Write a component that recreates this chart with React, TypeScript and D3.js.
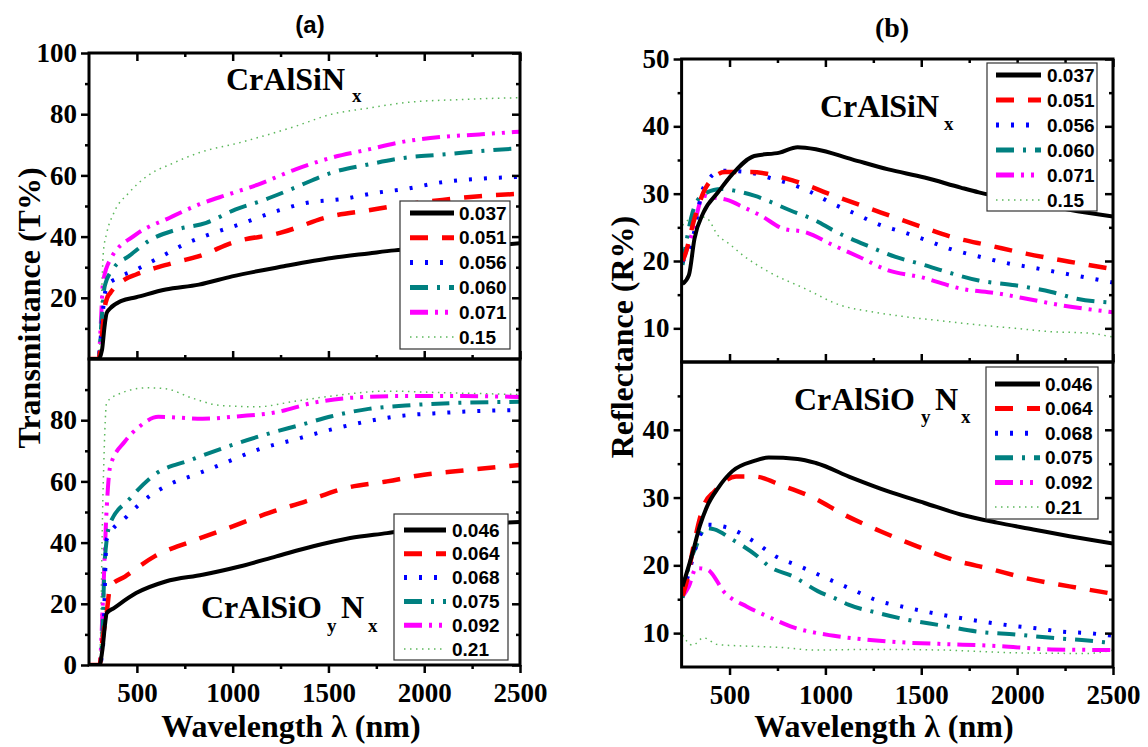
import React, { useRef, useEffect } from 'react';
import * as d3 from 'd3';

type Pt = [number, number];

// (a) transmittance, CrAlSiNx  [wavelength nm, T %]
const tN037: Pt[] = [[250, 0], [300, 0], [318, 3], [330, 10], [342, 15], [360, 16.5], [420, 19], [496, 20.2], [650, 22.7], [824, 24.3], [997, 27], [1267, 30.3], [1517, 33], [1710, 34.5], [1845, 35.5], [2000, 36], [2288, 36.9], [2500, 37.8]];
const tN051: Pt[] = [[250, 0], [300, 0], [318, 8], [330, 16], [345, 20], [361, 21.6], [438, 26], [496, 27.6], [689, 31.4], [843, 34], [997, 38], [1247, 41.2], [1517, 46.7], [1710, 48.6], [1845, 50], [2095, 52], [2288, 53.2], [2500, 54]];
const tN056: Pt[] = [[250, 0], [300, 0], [315, 10], [330, 20], [342, 23.8], [400, 26.5], [496, 29.2], [612, 33], [766, 38], [901, 41.2], [1036, 44], [1228, 48.3], [1382, 51], [1575, 52.3], [1749, 54.3], [1903, 55.6], [2095, 57.8], [2288, 58.9], [2500, 59.5]];
const tN060: Pt[] = [[250, 0], [300, 0], [315, 12], [332, 23.8], [380, 29.8], [458, 33.6], [573, 39], [708, 42.3], [862, 44.5], [1016, 48.9], [1170, 52.1], [1325, 56], [1517, 60.9], [1710, 63.6], [1903, 65.8], [2095, 66.8], [2288, 67.9], [2500, 68.9]];
const tN071: Pt[] = [[250, 0], [300, 0], [312, 12], [323, 24.9], [361, 32.5], [496, 40.7], [669, 46.1], [824, 50.5], [978, 53.8], [1132, 57], [1325, 61.9], [1517, 65.8], [1710, 68.5], [1864, 70.7], [2095, 72.6], [2288, 73.4], [2500, 74.3]];
const tN15: Pt[] = [[250, 0], [300, 0], [315, 20], [325, 35], [342, 41], [380, 47.8], [458, 54.3], [554, 59.8], [689, 64], [824, 67.4], [1036, 70.7], [1325, 76], [1517, 80], [1710, 82], [1903, 83.8], [2191, 84.8], [2500, 85.4]];

// (a) transmittance, CrAlSiOyNx
const tON046: Pt[] = [[250, 0], [305, 0], [320, 5], [335, 14], [342, 16.9], [380, 18.6], [496, 23.5], [650, 27.3], [843, 29.5], [1036, 32.2], [1228, 35.5], [1421, 38.8], [1614, 41.5], [1806, 43.1], [1999, 44.8], [2288, 46.1], [2500, 46.7]];
const tON064: Pt[] = [[250, 0], [305, 0], [320, 8], [342, 16.9], [361, 25.7], [438, 28.9], [592, 35.5], [785, 40.4], [978, 44.8], [1190, 49.7], [1382, 53.5], [1594, 57.9], [1806, 60], [1999, 62.2], [2191, 63.5], [2500, 65.4]];
const tON068: Pt[] = [[250, 0], [305, 0], [323, 6], [342, 41], [448, 48.6], [564, 55.1], [669, 59], [804, 62.2], [939, 65.5], [1132, 70.4], [1325, 73.7], [1517, 77], [1710, 79.7], [1864, 81.3], [2095, 82.4], [2288, 83], [2500, 83.3]];
const tON075: Pt[] = [[250, 0], [305, 0], [320, 10], [332, 34], [361, 46.4], [458, 54], [592, 62.2], [785, 67.1], [978, 71.5], [1170, 75.3], [1363, 78.6], [1517, 81.3], [1710, 83.7], [1903, 84.8], [2191, 85.7], [2500, 86]];
const tON092: Pt[] = [[250, 0], [305, 0], [323, 21.3], [342, 50.8], [361, 65], [438, 73.1], [515, 78], [612, 81.1], [843, 80.5], [1036, 81.3], [1228, 82.6], [1421, 85.7], [1614, 87.3], [1903, 87.9], [2191, 87.9], [2500, 87.6]];
const tON21: Pt[] = [[250, 0], [305, 0], [323, 56], [342, 85.7], [400, 88.4], [554, 90.6], [650, 90.3], [785, 87.3], [939, 84.8], [1132, 84.4], [1325, 86.2], [1517, 87.9], [1806, 89.5], [2095, 89], [2500, 88.4]];

// (b) reflectance, CrAlSiNx  [wavelength nm, R %]
const rN037: Pt[] = [[255, 16.6], [288, 17.9], [317, 23.3], [364, 27.2], [440, 30.2], [515, 32.9], [629, 35.6], [761, 36.1], [855, 36.9], [950, 36.6], [1139, 35.1], [1328, 33.6], [1517, 32.4], [1706, 30.9], [1800, 30.2], [2084, 28.7], [2273, 27.6], [2500, 26.6]];
const rN051: Pt[] = [[255, 20], [269, 21], [317, 26.3], [383, 31.2], [477, 33.2], [610, 33.2], [836, 31.9], [1044, 29.7], [1290, 27.2], [1479, 25.3], [1668, 23.5], [1857, 22.3], [2046, 21.1], [2273, 19.9], [2500, 18.8]];
const rN056: Pt[] = [[255, 19.9], [307, 23.3], [364, 30.9], [458, 33.4], [591, 33.2], [704, 32.4], [912, 30.4], [1025, 28.7], [1158, 27], [1271, 25.5], [1404, 24.3], [1536, 23], [1649, 21.8], [1782, 20.8], [1961, 19.6], [2084, 19], [2216, 18.3], [2349, 17.6], [2500, 16.8]];
const rN060: Pt[] = [[255, 19.4], [307, 27.2], [364, 29.9], [458, 30.7], [534, 30.4], [629, 29.7], [818, 27.5], [950, 26], [1044, 24.5], [1233, 22.1], [1366, 20.6], [1517, 19.4], [1630, 18.4], [1800, 17.1], [1990, 16.4], [2179, 15.4], [2311, 14.4], [2500, 13.8]];
const rN071: Pt[] = [[255, 19.9], [307, 24.3], [364, 29.7], [402, 29.5], [496, 29], [572, 28], [666, 26.7], [780, 24.8], [893, 24.3], [1044, 22.3], [1177, 20.6], [1328, 18.6], [1498, 17.6], [1706, 15.9], [1895, 15.2], [2084, 14.2], [2235, 13.4], [2500, 12.4]];
const rN15: Pt[] = [[255, 25.3], [326, 26.7], [383, 26.3], [440, 23.8], [496, 22.6], [572, 20.8], [704, 18.4], [893, 15.9], [1082, 13.4], [1233, 12.5], [1423, 11.7], [1611, 11.1], [1800, 10.5], [1990, 10], [2179, 9.5], [2368, 9.3], [2500, 8.7]];

// (b) reflectance, CrAlSiOyNx
const rON046: Pt[] = [[255, 16.9], [307, 21.8], [345, 25.8], [383, 28.7], [440, 31.4], [515, 33.9], [629, 35.4], [704, 35.9], [855, 35.7], [950, 35.1], [1139, 32.9], [1328, 30.9], [1517, 29.2], [1706, 27.5], [1895, 26.3], [2084, 25.3], [2273, 24.3], [2500, 23.2]];
const rON064: Pt[] = [[255, 15.5], [280, 18], [307, 22.1], [364, 28.7], [421, 30.9], [534, 33.1], [629, 33.1], [780, 31.7], [950, 29.8], [1082, 27.7], [1290, 25], [1479, 22.8], [1668, 20.8], [1857, 19.5], [2046, 18.1], [2273, 16.9], [2500, 15.8]];
const rON068: Pt[] = [[255, 15.9], [288, 18.9], [326, 22.8], [383, 26], [496, 25.5], [629, 23.5], [742, 21.3], [855, 20], [1006, 18.1], [1158, 16.2], [1271, 14.8], [1404, 13.9], [1536, 13.1], [1668, 12.4], [1819, 11.7], [1971, 11.1], [2103, 10.7], [2235, 10.2], [2368, 10], [2500, 9.6]];
const rON075: Pt[] = [[255, 15.2], [288, 19.9], [326, 22.8], [374, 25.5], [421, 25.3], [515, 23.8], [647, 21.3], [704, 19.9], [836, 18.3], [960, 16.2], [1060, 15], [1120, 14.2], [1271, 13], [1404, 12.1], [1611, 11.1], [1800, 10.2], [1990, 9.8], [2179, 9.3], [2368, 8.9], [2500, 8.5]];
const rON092: Pt[] = [[255, 15.4], [288, 16.9], [326, 19.6], [383, 19.4], [477, 15.9], [591, 13.9], [704, 12.4], [818, 11], [1044, 9.6], [1233, 9], [1423, 8.6], [1611, 8.4], [1895, 8.1], [2179, 7.6], [2500, 7.5]];
const rON21: Pt[] = [[255, 9.7], [307, 8.2], [364, 9.3], [440, 8.3], [572, 8.1], [761, 7.9], [950, 7.5], [1233, 7.6], [1611, 7.5], [1990, 7.1], [2368, 7], [2500, 7.5]];

const namesN = ['0.037', '0.051', '0.056', '0.060', '0.071', '0.15'];
const namesON = ['0.046', '0.064', '0.068', '0.075', '0.092', '0.21'];

const xTicks = [500, 1000, 1500, 2000, 2500];
const xMinor = [750, 1250, 1750, 2250];
const tTicksTop = [20, 40, 60, 80, 100];
const tTicksBottom = [0, 20, 40, 60, 80];
const tMinor = [10, 30, 50, 70, 90];
const rTicksTop = [10, 20, 30, 40, 50];
const rTicksBottom = [10, 20, 30, 40];
const rMinor = [15, 25, 35, 45];

const SERIF = "'Liberation Serif'";
const SANS = "'Liberation Sans'";

const lineStyles = [
  { color: '#000000', width: 4, dash: null },
  { color: '#ff0000', width: 4.5, dash: '18,14' },
  { color: '#0000ff', width: 4, dash: '3,12' },
  { color: '#008080', width: 4, dash: '18,9,3,9' },
  { color: '#ff00ff', width: 4, dash: '18,7,3,7,3,7' },
  { color: '#5cb85c', width: 1.5, dash: '1.5,4.5' },
];

let clipId = 0;

function drawPanel(svg: any, o: any) {
  const x = d3.scaleLinear().domain([250, 2500]).range([o.x0, o.x1]);
  const y = d3.scaleLinear().domain(o.yDomain).range([o.yBot, o.yTop]);
  const g = svg.append('g');

  const id = 'clip' + clipId++;
  g.append('clipPath').attr('id', id)
    .append('rect').attr('x', o.x0).attr('y', o.yTop).attr('width', o.x1 - o.x0).attr('height', o.yBot - o.yTop);

  const line = d3.line<Pt>().x(d => x(d[0])).y(d => y(d[1])).curve(d3.curveMonotoneX);
  const plot = g.append('g').attr('clip-path', `url(#${id})`);
  o.series.slice().reverse().forEach((s: Pt[], ri: number) => {
    const st = lineStyles[o.series.length - 1 - ri];
    plot.append('path').datum(s).attr('d', line)
      .attr('fill', 'none').attr('stroke', st.color).attr('stroke-width', st.width)
      .attr('stroke-dasharray', st.dash).attr('stroke-linejoin', 'round');
  });

  const styleAxis = (a: any) => {
    a.select('.domain').remove();
    a.selectAll('line').attr('stroke', '#000').attr('stroke-width', 2.5);
    a.attr('font-family', null).attr('font-size', null);
    a.selectAll('text').attr('fill', '#000')
      .style('font-family', SERIF).style('font-size', '27px').style('font-weight', 'bold');
  };

  // left: outward, labelled
  styleAxis(g.append('g').attr('transform', `translate(${o.x0},0)`)
    .call(d3.axisLeft(y).tickValues(o.yLabels).tickSize(8).tickPadding(4).tickFormat(d3.format('d'))));
  styleAxis(g.append('g').attr('transform', `translate(${o.x0},0)`)
    .call(d3.axisLeft(y).tickValues(o.yMinor).tickSize(4).tickFormat(() => '')));
  // right: inward
  styleAxis(g.append('g').attr('transform', `translate(${o.x1},0)`)
    .call(d3.axisLeft(y).tickValues(o.yLabels).tickSize(8).tickFormat(() => '')));
  styleAxis(g.append('g').attr('transform', `translate(${o.x1},0)`)
    .call(d3.axisLeft(y).tickValues(o.yMinor).tickSize(4).tickFormat(() => '')));

  if (o.top) {
    styleAxis(g.append('g').attr('transform', `translate(0,${o.yTop})`)
      .call(d3.axisBottom(x).tickValues(xTicks).tickSize(8).tickFormat(() => '')));
    styleAxis(g.append('g').attr('transform', `translate(0,${o.yTop})`)
      .call(d3.axisBottom(x).tickValues(xMinor).tickSize(4).tickFormat(() => '')));
    styleAxis(g.append('g').attr('transform', `translate(0,${o.yBot})`)
      .call(d3.axisTop(x).tickValues(xTicks).tickSize(8).tickFormat(() => '')));
    styleAxis(g.append('g').attr('transform', `translate(0,${o.yBot})`)
      .call(d3.axisTop(x).tickValues(xMinor).tickSize(4).tickFormat(() => '')));
  } else {
    styleAxis(g.append('g').attr('transform', `translate(0,${o.yBot})`)
      .call(d3.axisBottom(x).tickValues(xTicks).tickSize(8).tickPadding(10).tickFormat(d3.format('d'))));
    styleAxis(g.append('g').attr('transform', `translate(0,${o.yBot})`)
      .call(d3.axisBottom(x).tickValues(xMinor).tickSize(4).tickFormat(() => '')));
  }

  g.append('rect').attr('x', o.x0).attr('y', o.yTop).attr('width', o.x1 - o.x0).attr('height', o.yBot - o.yTop)
    .attr('fill', 'none').attr('stroke', '#000').attr('stroke-width', 3);

  // legend
  const L = o.legend;
  const lg = g.append('g');
  lg.append('rect').attr('x', L.x).attr('y', L.y).attr('width', L.w).attr('height', L.h)
    .attr('fill', '#fff').attr('stroke', '#333').attr('stroke-width', 1.2);
  o.names.forEach((n: string, i: number) => {
    const st = lineStyles[i];
    const yy = L.row0 + i * L.step;
    lg.append('line').attr('x1', L.s0).attr('x2', L.s1).attr('y1', yy).attr('y2', yy)
      .attr('stroke', st.color).attr('stroke-width', i === 5 ? 1.5 : 5).attr('stroke-dasharray', st.dash);
    lg.append('text').attr('x', L.tx).attr('y', yy).attr('dy', '0.35em')
      .style('font-family', SANS).style('font-weight', 'bold').style('font-size', '19px').text(n);
  });

  // material label
  const A = o.ann;
  const t = (s: string, xx: number, yy: number, size: number) =>
    g.append('text').attr('x', xx).attr('y', yy).style('font-family', SERIF).style('font-weight', 'bold')
      .style('font-size', size + 'px').attr('fill', '#000').text(s);
  if (A.oy) {
    t('CrAlSiO', A.x, A.y, 32);
    t('y', A.ysx, A.y + A.sub, 19);
    t('N', A.nx, A.y, 32);
    t('x', A.xsx, A.y + A.sub, 19);
  } else {
    t('CrAlSiN', A.x, A.y, 32);
    t('x', A.xsx, A.y + A.sub, 19);
  }
}

const App = () => {
  const ref = useRef<SVGSVGElement>(null);

  useEffect(() => {
    const svg = d3.select(ref.current);
    svg.selectAll('*').remove();

    drawPanel(svg, {
      x0: 89, x1: 520, yTop: 53, yBot: 359, yDomain: [0, 100], yLabels: tTicksTop, yMinor: tMinor, top: true,
      series: [tN037, tN051, tN056, tN060, tN071, tN15], names: namesN,
      legend: { x: 400, y: 201, w: 110, h: 148, row0: 213, step: 24.8, s0: 410, s1: 454, tx: 459 },
      ann: { x: 226, y: 90, sub: 12, xsx: 352 },
    });
    drawPanel(svg, {
      x0: 89, x1: 520, yTop: 359, yBot: 665, yDomain: [0, 100], yLabels: tTicksBottom, yMinor: tMinor, top: false,
      series: [tON046, tON064, tON068, tON075, tON092, tON21], names: namesON,
      legend: { x: 394, y: 514, w: 114, h: 146, row0: 530, step: 23.8, s0: 404, s1: 446, tx: 452 },
      ann: { oy: true, x: 201, y: 618, sub: 14, ysx: 327, nx: 341, xsx: 368 },
    });
    drawPanel(svg, {
      x0: 681.6, x1: 1113, yTop: 59, yBot: 362, yDomain: [5, 50], yLabels: rTicksTop, yMinor: rMinor, top: true,
      series: [rN037, rN051, rN056, rN060, rN071, rN15], names: namesN,
      legend: { x: 987, y: 63, w: 110, h: 148, row0: 75, step: 25, s0: 996, s1: 1041, tx: 1047 },
      ann: { x: 820, y: 117, sub: 13, xsx: 944 },
    });
    drawPanel(svg, {
      x0: 681.6, x1: 1113, yTop: 362, yBot: 667, yDomain: [5, 50], yLabels: rTicksBottom, yMinor: rMinor, top: false,
      series: [rON046, rON064, rON068, rON075, rON092, rON21], names: namesON,
      legend: { x: 986, y: 367, w: 112, h: 152, row0: 384, step: 24.6, s0: 995, s1: 1040, tx: 1045 },
      ann: { oy: true, x: 794, y: 410, sub: 13, ysx: 921, nx: 935, xsx: 961 },
    });

    const label = (s: string, xx: number, yy: number, size: number, family: string, rot = false) => {
      const el = svg.append('text').attr('text-anchor', 'middle').style('font-family', family)
        .style('font-weight', 'bold').style('font-size', size + 'px').attr('fill', '#000').text(s);
      if (rot) el.attr('transform', `translate(${xx},${yy}) rotate(-90)`);
      else el.attr('x', xx).attr('y', yy);
    };
    label('(a)', 310, 33, 24, SANS);
    label('(b)', 892, 37, 28, SERIF);
    label('Wavelength λ (nm)', 291, 737, 32, SERIF);
    label('Wavelength λ (nm)', 884, 737, 32, SERIF);
    label('Transmittance (T%)', 40, 308, 32, SERIF, true);
    label('Reflectance (R%)', 633, 337, 32, SERIF, true);
  }, []);

  return (
    <svg ref={ref} width={1148} height={747}
      style={{ position: 'absolute', left: 0, top: 0, background: '#fff' }} />
  );
};

export default App;
